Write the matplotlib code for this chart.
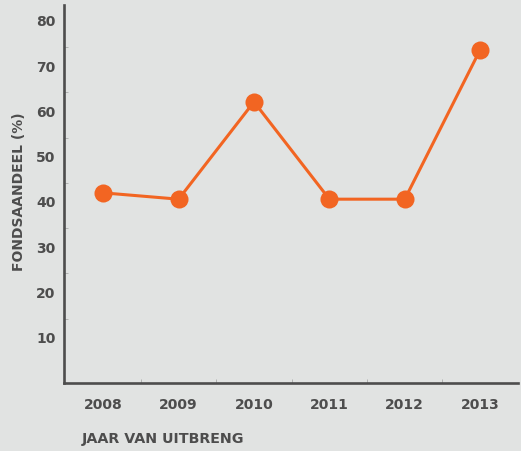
import matplotlib
matplotlib.use("Agg")
import matplotlib.pyplot as plt
import numpy as np

# data
years = ["2008", "2009", "2010", "2011", "2012", "2013"]
share = [42.0, 40.6, 62.1, 40.6, 40.6, 73.6]
y_ticks = [10, 20, 30, 40, 50, 60, 70, 80]

bg = "#e1e3e2"
orange = "#f26522"
dark = "#4d4d4d"

plt.rcParams['font.family'] = ['DejaVu Sans']

fig = plt.figure(figsize=(5.21, 4.51), dpi=100, facecolor=bg)
ax = fig.add_axes([0.1228, 0.1508, 0.8712, 0.8382], facecolor=bg)

x = np.arange(len(years))
ax.plot(x, share, color=orange, linewidth=2.2, marker="o", markersize=13,
        markeredgewidth=0, solid_capstyle="round", zorder=3)

ax.set_xlim(-0.52, 5.5)
ax.set_ylim(0, 83.5)

for side in ("top", "right"):
    ax.spines[side].set_visible(False)
for side in ("left", "bottom"):
    ax.spines[side].set_color(dark)
    ax.spines[side].set_linewidth(1.9)

ax.set_xticks(x)
ax.set_xticklabels(years)
ax.set_yticks(y_ticks)
ax.tick_params(axis="both", length=0, labelsize=10, labelcolor=dark)
ax.tick_params(axis="x", pad=11)
ax.tick_params(axis="y", pad=6)
for lab in ax.get_xticklabels() + ax.get_yticklabels():
    lab.set_fontweight("bold")

# faint separator marks along the axes
ax.set_xticks(np.arange(0.5, 5.0, 1.0), minor=True)
ax.set_yticks(np.arange(14.2, 80, 10.0), minor=True)
ax.tick_params(which="minor", direction="in", length=3, width=0.6, color="#a9aaa9")

fig.text(0.036, 0.574, "FONDSAANDEEL (%)", rotation=90, ha="center", va="center",
         fontsize=10, fontweight="bold", color=dark)
fig.text(0.157, 0.027, "JAAR VAN UITBRENG", ha="left", va="center",
         fontsize=10.3, fontweight="bold", color=dark)

fig.savefig("out.png", dpi=100, facecolor=bg)
